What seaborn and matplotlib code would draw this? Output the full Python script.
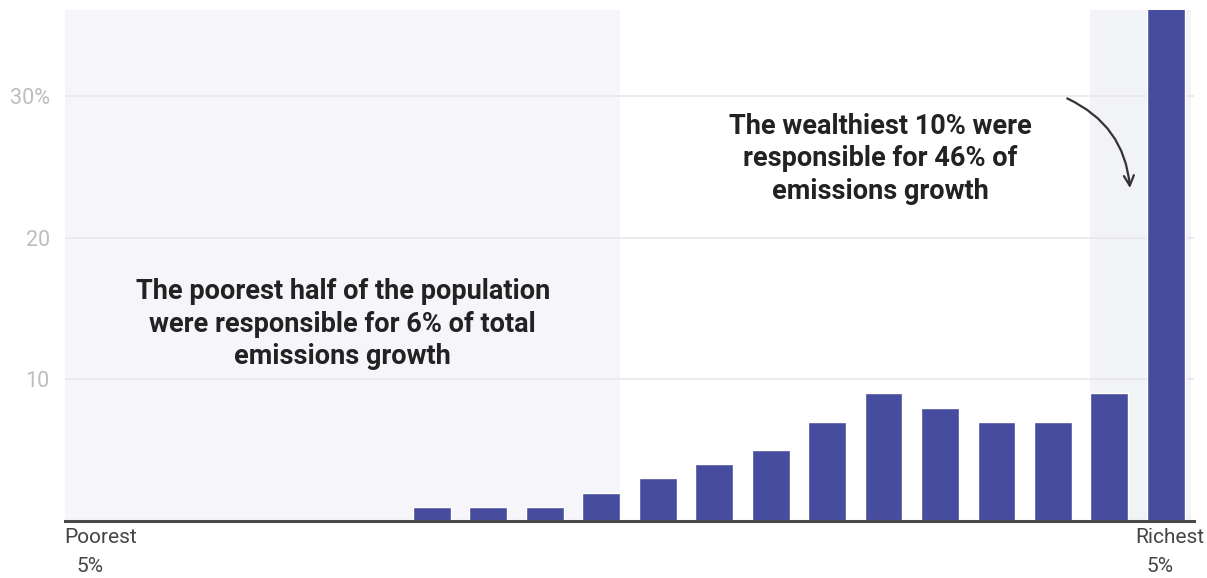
import matplotlib
matplotlib.use("Agg")
import matplotlib.pyplot as plt
import seaborn as sns
import pandas as pd
from matplotlib import transforms

# ---- data ----
groups = ["0-5", "5-10", "10-15", "15-20", "20-25", "25-30", "30-35", "35-40",
          "40-45", "45-50", "50-55", "55-60", "60-65", "65-70", "70-75", "75-80",
          "80-85", "85-90", "90-95", "95-100"]
share = [0, 0, 0, 0, 0, 0, 1, 1, 1, 2, 3, 4, 5, 7, 9, 8, 7, 7, 9, 37]
ytick_vals = [10, 20, 30]
ytick_labels = ["10", "20", "30%"]
note_poor = "The poorest half of the population\nwere responsible for 6% of total\nemissions growth"
note_rich = "The wealthiest 10% were\nresponsible for 46% of\nemissions growth"

df = pd.DataFrame({"group": groups, "share": share})

sns.set_theme(style="white")
plt.rcParams["font.family"] = ["Roboto", "DejaVu Sans"]

fig = plt.figure(figsize=(12.07, 5.78), dpi=100)
ax = fig.add_axes([65 / 1207, 57 / 578, 1129 / 1207, 511 / 578])

bar_w = 0.67
# shaded regions (poorest half, richest 10%)
ax.axvspan(-0.5, 9 + bar_w / 2, color="#f6f6fa", zorder=0, lw=0)
ax.axvspan(18 - bar_w / 2, 19.45, color="#f2f3f7", zorder=0, lw=0)

sns.barplot(data=df, x="group", y="share", order=groups, color="#474d9e",
            saturation=1, width=bar_w, ax=ax, zorder=3)

ax.set_xlim(-0.5, 19.5)
ax.set_ylim(0, 36.06)
ax.set_yticks(ytick_vals)
ax.set_yticklabels(ytick_labels, fontsize=15.5, color="#bdbdbd")
ax.tick_params(axis="y", length=0, pad=11)
ax.set_xticks([])
ax.set_xlabel("")
ax.set_ylabel("")
for y in ytick_vals:
    ax.axhline(y, color="#e8e8ec", lw=1.2, zorder=1)
for s in ["left", "right", "top"]:
    ax.spines[s].set_visible(False)
ax.spines["bottom"].set_color("#4a4a4a")
ax.spines["bottom"].set_linewidth(2.2)
ax.spines["bottom"].set_zorder(5)
ax.set_facecolor("white")

# x end labels
trans = transforms.blended_transform_factory(ax.transData, ax.transAxes)
ax.text(-0.52, -0.013, "Poorest", transform=trans, ha="left", va="top",
        fontsize=15, color="#444444")
ax.text(-0.06, -0.07, "5%", transform=trans, ha="center", va="top",
        fontsize=15, color="#444444")
ax.text(19.69, -0.013, "Richest", transform=trans, ha="right", va="top",
        fontsize=15, color="#444444", clip_on=False)
ax.text(18.9, -0.07, "5%", transform=trans, ha="center", va="top",
        fontsize=15, color="#444444")

# annotations
ax.text(4.42, 13.9, note_poor, ha="center", va="center", fontsize=19.5,
        fontweight="bold", color="#222222", linespacing=1.28, zorder=6)
ax.text(13.94, 25.55, note_rich, ha="center", va="center", fontsize=19.5,
        fontweight="bold", color="#222222", linespacing=1.28, zorder=6)
ax.annotate("", xy=(18.37, 23.3), xytext=(17.21, 29.9),
            arrowprops=dict(arrowstyle="->", color="#333333", lw=1.6,
                            connectionstyle="arc3,rad=-0.3",
                            mutation_scale=18), zorder=6)

fig.savefig("out.png", dpi=100, facecolor="white")
